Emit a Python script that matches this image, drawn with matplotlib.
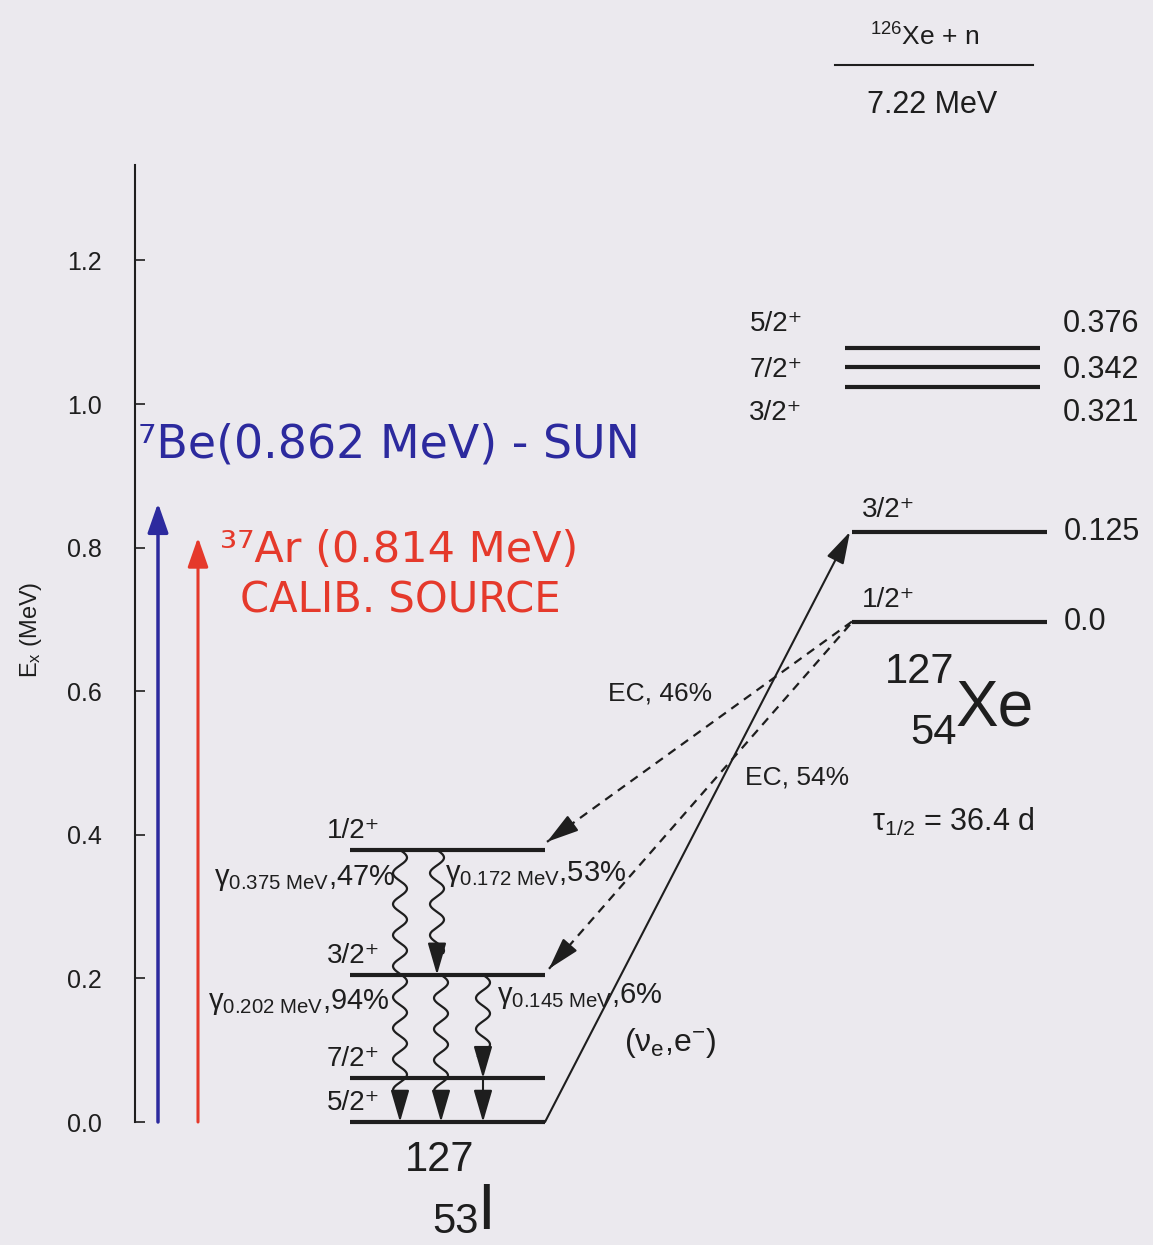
import numpy as np
import matplotlib.pyplot as plt

plt.rcParams['font.family'] = ['Liberation Sans', 'DejaVu Sans']
plt.rcParams['mathtext.fontset'] = 'custom'
plt.rcParams['mathtext.rm'] = 'Liberation Sans'
plt.rcParams['mathtext.it'] = 'Liberation Sans:italic'
plt.rcParams['mathtext.sf'] = 'Liberation Sans'

BG = '#ebe9ee'
INK = '#1e1e1e'
BLUE = '#2c2a9e'
RED = '#e5392b'

# level data (MeV)
i127_spin = ['5/2', '7/2', '3/2', '1/2']
i127_E = [0.0, 0.061, 0.205, 0.379]
xe_offset = 0.697          # 127Xe ground state on the 127I scale
xe127_spin = ['1/2', '3/2']
xe127_E = [0.0, 0.125]
xe127_lab = ['0.0', '0.125']
xe_high_spin = ['5/2', '7/2', '3/2']
xe_high_lab = ['0.376', '0.342', '0.321']
xe_high_drawn = [1.078, 1.051, 1.024]
gamma_from = [3, 3, 2, 2]
gamma_to = [0, 2, 0, 1]
gamma_MeV = ['0.375', '0.172', '0.202', '0.145']
gamma_pct = ['47%', '53%', '94%', '6%']
ec_to = [3, 2]
ec_pct = ['46%', '54%']
be7_E = 0.862
ar37_E = 0.814
yticks = [0.0, 0.2, 0.4, 0.6, 0.8, 1.0, 1.2]

PX = 718  # pixels per MeV


def ey(py):
    # pixel row -> energy, only used to place text
    return (1122 - py) / PX


fig = plt.figure(figsize=(11.53, 12.45), dpi=100, facecolor=BG)
ax = fig.add_axes([135 / 1153, 123 / 1245, 1018 / 1153, 957 / 1245])
ax.set_xlim(135, 1153)
ax.set_ylim(0, 957 / PX)
ax.set_facecolor('none')
for s in ['top', 'right', 'bottom']:
    ax.spines[s].set_visible(False)
ax.spines['left'].set_linewidth(1.5)
ax.spines['left'].set_color(INK)
ax.set_xticks([])
ax.set_yticks(yticks, [f'{v:.1f}' for v in yticks])
ax.tick_params(axis='y', direction='in', length=7, width=1.2, pad=24,
               labelsize=18, colors=INK)
ax.set_ylabel(r'E$_\mathrm{x}$ (MeV)', fontsize=17, color=INK)
ax.yaxis.set_label_coords((44 - 135) / 1018, ey(630) / (957 / PX))

kw = dict(color=INK, clip_on=False)
PLUS = '⁺'


def arrow(x0, e0, x1, e1, color=INK, lw=1.5, hl=1.1, hw=0.32, ms=18):
    ax.annotate('', xy=(x1, e1), xytext=(x0, e0), annotation_clip=False,
                arrowprops=dict(arrowstyle=f'-|>,head_length={hl},head_width={hw}',
                                color=color, lw=lw, shrinkA=0, shrinkB=0,
                                mutation_scale=ms))


def dashed_arrow(x0, e0, x1, e1):
    ax.plot([x0, x1], [e0, e1], ls=(0, (4, 3)), lw=1.6, **kw)
    dx, dy = x1 - x0, (e1 - e0) * PX
    L = np.hypot(dx, dy)
    arrow(x1 - dx / L * 20, e1 - dy / L * 20 / PX, x1, e1)


def wavy(x, e0, e1, amp=7, wl=31):
    ee = np.linspace(e0, e1, 400)
    xx = x + amp * np.sin((e0 - ee) * PX / wl * 2 * np.pi)
    ax.plot(xx, ee, lw=1.6, **kw)


# 127I levels
I_X0, I_X1 = 350, 545
for E, sp in zip(i127_E, i127_spin):
    ax.plot([I_X0, I_X1], [E, E], lw=3, solid_capstyle='butt', **kw)
    ax.text(380, E + 19 / PX, sp + PLUS, ha='right', va='center',
            fontsize=20, color=INK)

# gamma cascade
gamma_x = [400, 437, 441, 483]
head = 22 / PX
for k in range(4):
    e0, e1 = i127_E[gamma_from[k]], i127_E[gamma_to[k]]
    wavy(gamma_x[k], e0, e1 + head)
    arrow(gamma_x[k], e1 + head, gamma_x[k], e1)
arrow(483, i127_E[1], 483, i127_E[0], hl=1.1)

glab = r'γ$_{\mathrm{%s\ MeV}}$,%s'
gfs = 21
ax.text(396, ey(878), glab % (gamma_MeV[0], gamma_pct[0]), ha='right', va='center', fontsize=gfs, color=INK)
ax.text(445, ey(874), glab % (gamma_MeV[1], gamma_pct[1]), ha='left', va='center', fontsize=gfs, color=INK)
ax.text(390, ey(1002), glab % (gamma_MeV[2], gamma_pct[2]), ha='right', va='center', fontsize=gfs, color=INK)
ax.text(497, ey(996), glab % (gamma_MeV[3], gamma_pct[3]), ha='left', va='center', fontsize=gfs, color=INK)

ax.text(440, ey(1160), '127', ha='center', va='center', fontsize=30, color=INK)
ax.text(455, ey(1222), '53', ha='center', va='center', fontsize=30, color=INK)
ax.text(477, ey(1212), 'I', ha='left', va='center', fontsize=46, color=INK)

# 127Xe levels
X_X0, X_X1 = 852, 1047
for E, sp, lab in zip(xe127_E, xe127_spin, xe127_lab):
    y = xe_offset + E
    ax.plot([X_X0, X_X1], [y, y], lw=3, solid_capstyle='butt', **kw)
    ax.text(862, y + 22 / PX, sp + PLUS, ha='left', va='center', fontsize=20, color=INK)
    ax.text(1064, y, lab, ha='left', va='center', fontsize=22, color=INK)

lab_off = [24, -3, -26]
for E, sp, lab, off in zip(xe_high_drawn, xe_high_spin, xe_high_lab, lab_off):
    ax.plot([845, 1040], [E, E], lw=3, solid_capstyle='butt', **kw)
    ax.text(776, E + off / PX, sp + PLUS, ha='center', va='center', fontsize=20, color=INK)
    ax.text(1101, E + off / PX, lab, ha='center', va='center', fontsize=22, color=INK)

ax.text(920, ey(672), '127', ha='center', va='center', fontsize=30, color=INK)
ax.text(934, ey(733), '54', ha='center', va='center', fontsize=30, color=INK)
ax.text(956, ey(708), 'Xe', ha='left', va='center', fontsize=46, color=INK)
ax.text(872, ey(822), r'τ$_{1/2}$ = 36.4 d', ha='left', va='center', fontsize=22, color=INK)

# EC branches and neutrino capture
dashed_arrow(852, xe_offset, 547, i127_E[ec_to[0]] + 8 / PX)
dashed_arrow(850, xe_offset - 3 / PX, 549, i127_E[ec_to[1]] + 6 / PX)
ax.text(660, ey(693), 'EC, ' + ec_pct[0], ha='center', va='center', fontsize=19, color=INK)
ax.text(797, ey(777), 'EC, ' + ec_pct[1], ha='center', va='center', fontsize=19, color=INK)

arrow(I_X1, i127_E[0], 850, xe_offset + xe127_E[1])
ax.text(670, ey(1043), r'(ν$_\mathrm{e}$,e$^{-}$)', ha='center', va='center', fontsize=23, color=INK)

# neutron separation
ax.plot([835, 1033], [ey(65), ey(65)], lw=1.5, **kw)
ax.text(925, ey(37), '$^{126}$Xe + n', ha='center', va='center', fontsize=19, color=INK)
ax.text(932, ey(105), '7.22 MeV', ha='center', va='center', fontsize=22, color=INK)

# handwritten source lines
arrow(158, 0.0, 158, be7_E, color=BLUE, lw=2.5, hl=1.0, hw=0.35)
arrow(198, 0.0, 198, ar37_E, color=RED, lw=2.2, hl=1.0, hw=0.35)
ax.text(138, ey(445), '⁷Be(0.862 MeV) - SUN', ha='left', va='center',
        fontsize=33, color=BLUE, family='DejaVu Sans')
ax.text(220, ey(550), '³⁷Ar (0.814 MeV)', ha='left', va='center',
        fontsize=31, color=RED, family='DejaVu Sans')
ax.text(240, ey(600), 'CALIB. SOURCE', ha='left', va='center',
        fontsize=30, color=RED, family='DejaVu Sans')

fig.savefig('out.png', dpi=100, facecolor=BG)
